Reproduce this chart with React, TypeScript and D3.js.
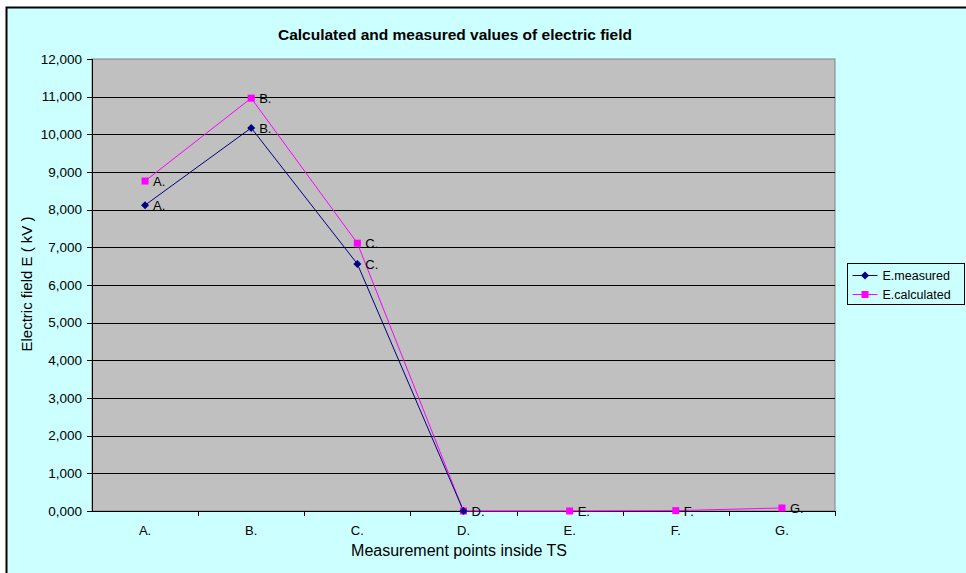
import React from "react";
import * as d3 from "d3";

const categories = ["A.", "B.", "C.", "D.", "E.", "F.", "G."];
const measured: (number | null)[] = [8120, 10170, 6560, 0, null, null, null];
const calculated: (number | null)[] = [8760, 10960, 7110, 0, 0, 10, 80];
const yTicks = [0, 1000, 2000, 3000, 4000, 5000, 6000, 7000, 8000, 9000, 10000, 11000, 12000];

const W = 966, H = 573;
const L = 92, R = 835, T = 59, B = 511;
const FONT = "'Liberation Sans', Arial, sans-serif";

export default function App() {
  const x = d3.scaleBand<string>().domain(categories).range([L, R]);
  const y = d3.scaleLinear().domain([0, 12000]).range([B, T]);
  const cx = (c: string) => (x(c) as number) + x.bandwidth() / 2;
  const line = d3
    .line<[string, number | null]>()
    .defined((d) => d[1] !== null)
    .x((d) => cx(d[0]))
    .y((d) => y(d[1] as number));
  const mPts = categories.map((c, i) => [c, measured[i]] as [string, number | null]);
  const cPts = categories.map((c, i) => [c, calculated[i]] as [string, number | null]);
  const navy = "#000080", mag = "#FF00FF";
  const diamond = (px: number, py: number, s = 4) => `M${px},${py - s}L${px + s},${py}L${px},${py + s}L${px - s},${py}Z`;
  return (
    <svg width={W} height={H} style={{ position: "absolute", left: 0, top: 0 }} fontFamily={FONT}>
      <rect x={0} y={0} width={W} height={H} fill="#FFFFFF" />
      <rect x={6.5} y={7.5} width={W + 20} height={H + 20} fill="#CCFFFF" stroke="#000" strokeWidth={2} />
      <text x={455} y={40} textAnchor="middle" fontSize={15.5} fontWeight="bold" fill="#000">
        Calculated and measured values of electric field
      </text>
      <rect x={L} y={T} width={R - L} height={B - T} fill="#C0C0C0" stroke="#808080" strokeWidth={1} />
      {yTicks.map((t) => (
        <g key={t}>
          {t > 0 && t < 12000 && <line x1={L} x2={R} y1={Math.round(y(t)) + 0.5} y2={Math.round(y(t)) + 0.5} stroke="#000" />}
          <line x1={L - 5} x2={L} y1={Math.round(y(t)) + 0.5} y2={Math.round(y(t)) + 0.5} stroke="#000" />
          <text x={L - 10} y={y(t)} dy="0.35em" textAnchor="end" fontSize={13.5} fill="#000">
            {Math.floor(t / 1000).toLocaleString("en-US") + ",000"}
          </text>
        </g>
      ))}
      <line x1={L + 0.5} x2={L + 0.5} y1={T} y2={B} stroke="#000" />
      <line x1={L} x2={R} y1={B + 0.5} y2={B + 0.5} stroke="#000" />
      {categories.map((c) => (
        <line key={"t" + c} x1={Math.round((x(c) as number) + x.bandwidth()) + 0.5} x2={Math.round((x(c) as number) + x.bandwidth()) + 0.5} y1={B} y2={B + 5} stroke="#000" />
      ))}
      {categories.map((c) => (
        <text key={"c" + c} x={cx(c)} y={535} textAnchor="middle" fontSize={13} fill="#000">{c}</text>
      ))}
      <text x={459} y={556} textAnchor="middle" fontSize={16} fill="#000">Measurement points inside TS</text>
      <text transform={`translate(32,284) rotate(-90)`} textAnchor="middle" fontSize={15} fill="#000">Electric field E ( kV )</text>
      <path d={line(cPts) || ""} fill="none" stroke={mag} strokeWidth={1} />
      <path d={line(mPts) || ""} fill="none" stroke={navy} strokeWidth={1} />
      {cPts.map(([c, v]) =>
        v === null ? null : (
          <g key={"cp" + c}>
            <rect x={cx(c) - 3.5} y={y(v) - 3.5} width={7} height={7} fill={mag} />
            <text x={cx(c) + 8} y={y(v)} dy="0.4em" fontSize={13} fill="#000">{c}</text>
          </g>
        )
      )}
      {mPts.map(([c, v]) =>
        v === null ? null : (
          <g key={"mp" + c}>
            <path d={diamond(cx(c), y(v))} fill={navy} />
            {v > 0 && <text x={cx(c) + 8} y={y(v)} dy="0.4em" fontSize={13} fill="#000">{c}</text>}
          </g>
        )
      )}
      <g transform="translate(847.5,263.5)">
        <rect x={0} y={0} width={117} height={41} fill="#CCFFFF" stroke="#000" />
        <line x1={5} x2={30} y1={12} y2={12} stroke={navy} />
        <path d={diamond(17.5, 12)} fill={navy} />
        <text x={35} y={12} dy="0.35em" fontSize={12.5} fill="#000">E.measured</text>
        <line x1={5} x2={30} y1={31} y2={31} stroke={mag} />
        <rect x={14} y={27.5} width={7} height={7} fill={mag} />
        <text x={35} y={31} dy="0.35em" fontSize={12.5} fill="#000">E.calculated</text>
      </g>
    </svg>
  );
}
